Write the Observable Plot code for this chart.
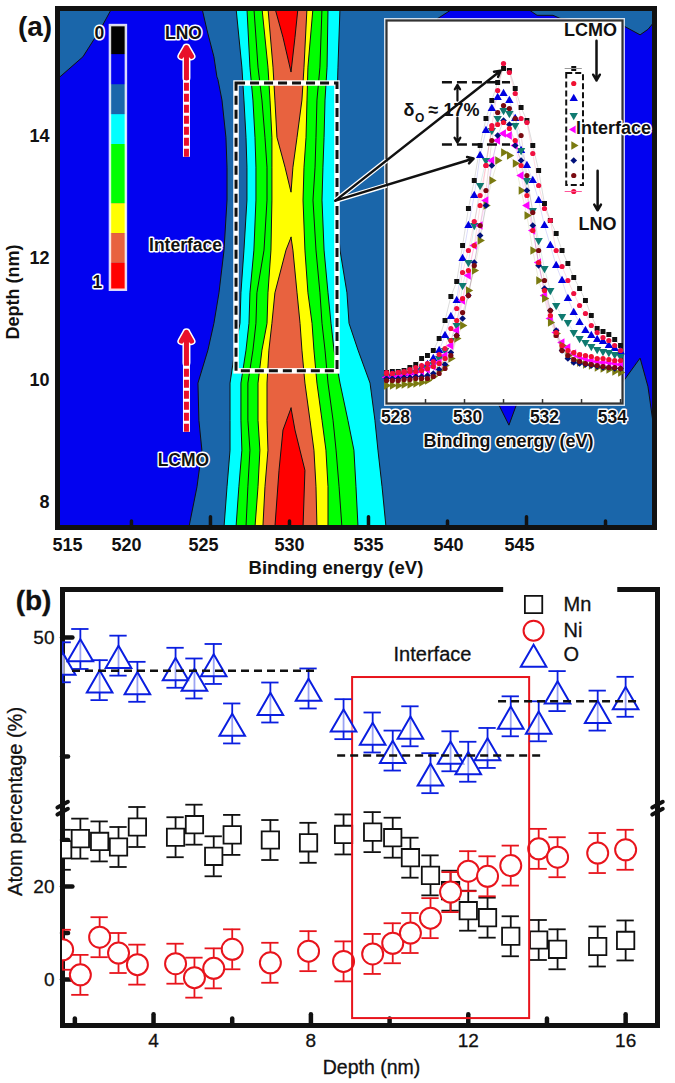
<!DOCTYPE html>
<html><head><meta charset="utf-8">
<script src="https://cdn.jsdelivr.net/npm/d3@7"></script>
<script src="https://cdn.jsdelivr.net/npm/@observablehq/plot@0.6"></script>
<style>
html,body{margin:0;padding:0;background:#fff}
#wrap{position:relative;width:675px;height:1083px;overflow:hidden}
#wrap>div{position:absolute}
#wrap svg{display:block;background:transparent;overflow:visible}
#b text{stroke:#111;stroke-width:.3px}
</style></head><body>
<div id="wrap"><div id="a" style="left:0;top:0"></div><div id="inset" style="left:380px;top:14px"></div><div id="over" style="left:0;top:0"></div><div id="b" style="left:0;top:575px"></div></div>
<script>
// ---- Panel (a): contour map, boundaries in eV at each depth (nm)
const contourDepth=[16.10,15.13,14.59,13.98,13.49,12.95,12.13,11.43,10.93,10.49,9.95,9.34,8.85,8.25,7.59];
const cyanL=[526.65,527.02,527.15,527.28,527.34,527.34,527.15,526.96,526.90,526.58,526.27,526.27,526.27,526.08,525.89];
const cyanR=[533.23,533.10,533.04,532.98,532.98,532.98,533.23,533.67,533.80,534.37,535.13,535.44,535.63,535.89,536.14];
const greenOuterL=[527.34,527.53,527.72,527.85,527.91,527.91,527.78,527.53,527.47,527.28,526.96,526.96,527.02,526.83,526.65];
const greenOuterR=[532.47,532.41,532.28,532.22,532.15,532.09,532.22,532.47,532.66,532.85,533.23,533.73,534.11,534.24,534.37];
const greenMidL=[527.78,528.04,528.29,528.48,528.61,528.61,528.42,527.97,527.91,527.72,527.40,527.40,527.53,527.40,527.28];
const greenMidR=[532.09,531.96,531.77,531.71,531.65,531.52,531.71,531.96,532.09,532.28,532.47,532.79,532.98,533.17,533.35];
const yellowL=[528.29,528.67,528.80,528.92,528.92,528.92,528.86,528.67,528.61,528.29,528.04,528.04,528.16,528.04,527.85];
const yellowR=[531.52,531.20,531.14,531.08,530.95,530.89,531.01,531.20,531.46,531.58,531.77,532.09,532.34,532.47,532.47];
const orangeTopDepth=[16.10,15.13,14.59,13.98,13.49,13.08];
const orangeTopL=[528.67,528.99,529.11,529.24,529.75,530.13];
const orangeTopR=[531.14,530.95,530.82,530.51,530.25,530.13];
const orangeLowDepth=[12.34,12.13,11.43,10.93,10.49,9.95,9.34,8.85,8.25,7.59];
const orangeLowL=[530.13,529.81,529.11,528.92,528.73,528.61,528.61,528.67,528.48,528.35];
const orangeLowR=[530.13,530.25,530.51,530.70,530.82,531.01,531.33,531.58,531.71,531.77];
const redTopDepth=[16.10,15.62,15.05];
const redTopL=[529.11,529.62,530.13];
const redTopR=[530.57,530.38,530.13];
const redLowDepth=[9.54,9.18,8.52,7.59];
const redLowL=[530.13,529.62,529.37,529.11];
const redLowR=[530.13,530.38,531.01,530.89];
const blueLeftDepth=[16.10,15.74,15.30,14.97,14.93,14.59,13.98,13.49,12.95,12.13,11.43,10.93,10.49,9.95,9.34,8.85,8.25,7.59];
const blueLeftL=[518.80,518.04,516.96,515.50,515.32,515.32,515.32,515.32,515.32,515.32,515.32,515.32,515.32,515.32,515.32,515.32,515.32,515.32];
const blueLeftR=[524.49,524.81,525.25,525.44,525.50,525.76,526.01,526.08,526.08,525.89,525.57,525.25,524.87,524.24,524.30,524.49,524.18,523.67];
const blueRightEv=[539.43,540.32,545.13,545.70,546.71,547.15,551.08,552.22,552.72,553.04,553.13];
const blueRightTop=[15.93,16.08,16.08,15.98,15.98,15.93,15.82,15.66,15.75,15.85,15.85];
const blueRightLow=[15.93,11.31,11.31,11.31,11.31,11.31,9.95,10.36,9.89,9.30,9.20];
const blueNotchEv=[543.23,543.92,544.43];
const blueNotchTop=[10,10,10];
const blueNotchLow=[9.62,9.26,9.62];
const colorTop=[15.82,15.34,14.85,14.36,13.87,12.90,12.41,11.92];
const colorLow=[15.34,14.85,14.36,13.87,12.90,12.41,11.92,11.48];
const colorFill=["#000000","#0202f0","#1a66aa","#00ffff","#00ff00","#ffff00","#e8623f","#ff0000"];
const aMajor=[525,535,545], aMinor=[520,530,540,550];
const aLabelEv=[515.95,519.68,524.56,530,535,540.06,544.56];
const aLabelText=["515","520","525","530","535","540","545"];
const aDepthTicks=[8,10,12,14];

// ---- Inset: O 1s spectra, intensity (a.u.) at 0.15 eV steps from 528 to 534
const insetEv=d3.range(41).map(i=>+(528+i*0.15).toFixed(2));
const sBlack=[31,32,32,33,36,39,45,48,53,65,83,107,122,158,195,223,258,285,303,321,335,333,315,296,283,258,233,200,183,170,153,140,126,115,103,88,75,72,69,64,58];
const sBlue=[28,29,29,30,31,33,36,39,45,53,68,87,103,145,178,208,248,273,295,306,310,303,285,253,238,223,203,178,158,138,123,105,91,81,73,68,64,62,58,55,52];
const sTeal=[27,27,28,29,30,31,33,35,39,45,53,63,78,118,141,178,218,243,273,285,293,290,278,253,223,193,163,135,113,98,87,81,71,65,61,57,54,52,51,49,47];
const sMagenta=[26,26,27,28,29,30,32,34,37,41,48,58,73,103,128,158,178,203,243,263,270,268,258,228,198,173,141,108,85,71,61,56,50,47,45,43,42,41,41,40,39];
const sOlive=[18,18,18,19,19,20,21,23,27,33,38,45,65,78,113,133,163,198,223,243,251,248,240,213,188,153,123,105,81,70,58,48,43,41,39,38,36,35,34,32,31];
const sNavy=[25,25,25,26,26,27,27,28,30,34,39,51,68,85,108,141,168,198,238,268,283,279,258,243,213,178,138,115,93,73,53,45,41,40,39,38,37,36,36,35,35];
const sMaroon=[23,23,23,24,24,25,25,25,27,30,35,48,68,91,108,138,178,213,263,291,298,295,285,268,228,191,153,123,93,68,53,48,44,42,40,39,38,37,36,36,35];
const sRedB=[30,30,31,31,32,32,33,35,37,40,45,63,83,105,133,158,198,238,275,279,281,275,263,238,208,173,141,113,88,71,58,53,51,49,48,47,45,45,44,43,43];
const sRedA=[31,30,31,32,34,36,38,40,42,49,55,75,95,131,153,182,208,238,278,313,340,331,310,285,281,250,218,195,183,153,137,123,110,98,90,78,71,66,63,58,53];
const insetSeries=[
 {v:sBlack,c:"#111111",s:"square",rot:0,leg:335,r:2.8},
 {v:sBlue,c:"#0000e0",s:"triangle",rot:0,leg:305,r:3.1},
 {v:sTeal,c:"#0f7a70",s:"triangle",rot:180,leg:288,r:3.1},
 {v:sMagenta,c:"#ff00ff",s:"triangle",rot:-90,leg:274,r:3.1},
 {v:sOlive,c:"#7a7a10",s:"triangle",rot:90,leg:258,r:3.1},
 {v:sNavy,c:"#00107a",s:"diamond2",rot:0,leg:243,r:3},
 {v:sMaroon,c:"#7a0a10",s:"circle",rot:0,leg:228,r:2.6},
 {v:sRedB,c:"#f01030",s:"circle",rot:0,leg:320,r:2.6},
 {v:sRedA,c:"#f01040",s:"circle",rot:0,leg:212,r:2.6}
];
const insetLegendEv=532.8;
const insetLabelEv=[528.23,530.08,532.05,533.79], insetLabelText=["528","530","532","534"];

// ---- Panel (b): atom percentage against depth
const depth=[1.69,2.14,2.63,3.11,3.59,4.56,5.04,5.53,6.0,6.97,7.94,8.83,9.57,10.08,10.53,11.04,11.55,12.0,12.49,13.08,13.79,14.27,15.29,16.0];
const mn=[27.9,30.3,29.7,28.5,32.8,30.6,33.3,26.5,31.1,30.0,29.4,31.2,31.7,30.5,26.2,22.4,19.1,14.8,13.3,9.3,8.5,6.5,7.1,8.4];
const ni=[6.4,1.0,9.1,5.7,3.2,3.4,0.4,2.4,6.5,3.6,6.1,3.9,5.5,7.8,10.0,13.2,18.8,23.3,22.2,24.5,28.1,26.3,27.2,27.9];
const ox=[48.96,49.52,48.21,49.24,48.14,48.73,48.28,48.89,46.39,47.27,47.86,46.57,46.01,45.25,46.27,44.30,45.22,44.78,45.36,46.69,46.48,47.75,46.93,47.51];
const mnErr=4.3, niErr=4.3, oxErr=0.84;
const guides=[{x1:1.94,x2:8.20,y:48.61},{x1:8.68,x2:13.92,y:45.04},{x1:12.77,x2:16.33,y:47.32}];
const legendRows=[{t:"Mn",y:51.39},{t:"Ni",y:50.29},{t:"O",y:49.29}];
const bXMajor=[4,8,12,16], bXMinor=[2,6,10,14], bYMajor=[0,20,50], bYMinor=[10,30,45];

const font='"Liberation Sans",Arial,sans-serif';
const aOpts={width:675,height:575,marginTop:8,marginBottom:48,marginLeft:57,marginRight:21,
  x:{domain:[515.32,553.1],axis:null},y:{domain:[7.59,16.1],axis:null},
  style:{fontFamily:font,fontWeight:"bold",background:"transparent",color:"#111"}};
const band=(ds,L,R,fill)=>Plot.areaX(ds.map((y,i)=>({y,a:L[i],b:R[i]})),{y:"y",x1:"a",x2:"b",fill,stroke:"#111",strokeWidth:1,fillOpacity:1});
const bandY=(xs,T,B,fill)=>Plot.areaY(xs.map((x,i)=>({x,a:T[i],b:B[i]})),{x:"x",y1:"a",y2:"b",fill,stroke:"#111",strokeWidth:1,clip:true});
const blue="#0202f0",steel="#1a66aa",cy="#00ffff",gr="#00ff00",ye="#ffff00",or="#e8623f",re="#ff0000";
const colorRows=colorFill.map((f,i)=>({f,t:colorTop[i],l:colorLow[i]}));

document.getElementById("a").append(Plot.plot({...aOpts,marks:[
  Plot.frame({fill:steel}),
  band(blueLeftDepth,blueLeftL,blueLeftR,blue),
  bandY(blueRightEv,blueRightTop,blueRightLow,blue),
  bandY(blueNotchEv,blueNotchTop,blueNotchLow,blue),
  band(contourDepth,cyanL,cyanR,cy),
  band(contourDepth,greenOuterL,greenOuterR,gr),
  band(contourDepth,greenMidL,greenMidR,gr),
  band(contourDepth,yellowL,yellowR,ye),
  band(orangeTopDepth,orangeTopL,orangeTopR,or),
  band(orangeLowDepth,orangeLowL,orangeLowR,or),
  band(redTopDepth,redTopL,redTopR,re),
  band(redLowDepth,redLowL,redLowR,re),
  Plot.frame({stroke:"#111",strokeWidth:5}),
  Plot.rect(colorRows,{x1:()=>518.67,x2:()=>519.68,y1:"t",y2:"l",fill:"f"}),
  Plot.rect([0],{x1:()=>518.67,x2:()=>519.68,y1:()=>15.82,y2:()=>11.48,stroke:"#fff",strokeWidth:2.5,strokeOpacity:.85}),
  Plot.ruleX(aMajor,{y1:()=>7.59,y2:()=>7.76,stroke:"#111",strokeWidth:3.5,strokeLinecap:"round"}),
  Plot.ruleX(aMinor,{y1:()=>7.59,y2:()=>7.69,stroke:"#111",strokeWidth:3.5,strokeLinecap:"round"}),
  Plot.axisY({ticks:aDepthTicks,tickSize:0,tickPadding:8,fontSize:18,label:null,anchor:"left",fontWeight:"bold"}),
  Plot.text(aLabelText,{x:(d,i)=>aLabelEv[i],y:()=>7.3,text:d=>d,fontSize:18,fontWeight:"bold"}),
  Plot.text(["Binding energy (eV)"],{x:()=>532.94,y:()=>6.93,fontSize:18.5,fontWeight:"bold"}),
  Plot.text(["Depth (nm)"],{x:()=>512.53,y:()=>11.45,rotate:-90,fontSize:18,fontWeight:"bold"}),
  Plot.text(["(a)"],{x:()=>513.9,y:()=>15.8,textAnchor:"middle",fontSize:28,fontWeight:"bold"})
]}));

// Inset
const ins=[];
insetSeries.forEach(o=>{
  const rows=insetEv.map((x,i)=>({x,y:o.v[i]}));
  ins.push(Plot.line(rows,{x:"x",y:"y",stroke:o.c,strokeWidth:1,strokeOpacity:.14}));
});
insetSeries.forEach(o=>{
  const rows=insetEv.map((x,i)=>({x,y:o.v[i]}));
  ins.push(Plot.dot(rows,{x:"x",y:"y",symbol:o.s,rotate:o.rot,fill:o.c,stroke:"none",r:o.r}));
});
insetSeries.forEach(o=>{
  ins.push(Plot.dot([o.leg],{x:()=>insetLegendEv,y:d=>d,symbol:o.s,rotate:o.rot,fill:o.c,stroke:"none",r:o.r}));
});
document.getElementById("inset").append(Plot.plot({width:250,height:446,marginLeft:6,marginRight:8,marginTop:6,marginBottom:57,
  x:{domain:[528,534.05],axis:null},y:{domain:[0,383],axis:null},
  style:{fontFamily:font,fontWeight:"bold",background:"transparent",color:"#111"},
  marks:[
    Plot.frame({stroke:"#fff",strokeWidth:5,strokeOpacity:.8}),
    Plot.frame({fill:"#fff",stroke:"#333",strokeWidth:2.2}),
    Plot.ruleX([529,530,531,532,533,534],{y1:()=>0,y2:()=>4,stroke:"#333",strokeWidth:1.5}),
    ...ins,
    Plot.ruleY([335,212],{x1:()=>532.58,x2:()=>533.02,stroke:d=>d===335?"#999":"#f59",strokeWidth:1}),
    Plot.rect([0],{x1:()=>532.62,x2:()=>533.05,y1:()=>218,y2:()=>330,stroke:"#111",strokeWidth:2,strokeDasharray:"6 3"}),
    Plot.text(insetLabelText,{x:(d,i)=>insetLabelEv[i],y:()=>-14,text:d=>d,fontSize:17.5,fontWeight:"bold",stroke:"#fff",strokeWidth:3,fill:"#111"}),
    Plot.text(["Binding energy (eV)"],{x:()=>531.13,y:()=>-38,fontSize:18,fontWeight:"bold",stroke:"#fff",strokeWidth:3,fill:"#111"})
  ]}));

// Overlay annotations in panel (a) coordinates
const halo={stroke:"#fff",strokeWidth:3,fill:"#111",fontWeight:"bold",fontSize:17.5};
const plain={fill:"#111",fontWeight:"bold",fontSize:18};
const redArrow=(x,tail,tip,neck)=>[
  Plot.ruleX([x],{y1:()=>tail,y2:()=>neck,stroke:"#fff",strokeWidth:7}),
  Plot.arrow([0],{x1:()=>x,x2:()=>x,y1:()=>neck,y2:()=>tip,stroke:"#fff",strokeWidth:8,headLength:4.5,bend:0}),
  Plot.ruleX([x],{y1:()=>tail,y2:()=>neck,stroke:"#e8102a",strokeWidth:5,strokeDasharray:"8 3"}),
  Plot.arrow([0],{x1:()=>x,x2:()=>x,y1:()=>neck,y2:()=>tip,stroke:"#e8102a",strokeWidth:5,headLength:5.5,bend:0})
];
const blackArrow=(x1,y1,x2,y2,sw=2.5)=>Plot.arrow([0],{x1:()=>x1,y1:()=>y1,x2:()=>x2,y2:()=>y2,stroke:"#111",strokeWidth:sw,headLength:4,bend:0});
const whiteLine=(x1,y1,x2,y2)=>Plot.link([0],{x1:()=>x1,y1:()=>y1,x2:()=>x2,y2:()=>y2,stroke:"#fff",strokeWidth:5});
document.getElementById("over").append(Plot.plot({...aOpts,marks:[
  Plot.rect([0],{x1:()=>526.65,x2:()=>533.04,y1:()=>10.15,y2:()=>14.87,stroke:"#fff",strokeWidth:5.5}),
  Plot.rect([0],{x1:()=>526.65,x2:()=>533.04,y1:()=>10.15,y2:()=>14.87,stroke:"#111",strokeWidth:3,strokeDasharray:"9 5"}),
  whiteLine(532.91,12.95,536.14,13.61),whiteLine(532.91,12.95,536.14,13.2),
  blackArrow(532.91,12.95,543.36,15.08),
  blackArrow(532.91,12.95,541.65,13.64),
  ...redArrow(523.48,13.66,15.46,14.96),
  ...redArrow(523.48,9.15,10.79,10.29),
  Plot.text(["LNO"],{x:()=>523.29,y:()=>15.69,...halo}),
  Plot.text(["Interface"],{x:()=>523.42,y:()=>12.21,...halo}),
  Plot.text(["LCMO"],{x:()=>523.29,y:()=>8.69,...halo}),
  Plot.text(["0"],{x:()=>517.97,y:()=>15.69,...halo}),
  Plot.text(["1"],{x:()=>517.85,y:()=>11.61,...halo}),
  Plot.ruleY([14.89,13.87],{x1:()=>539.68,x2:()=>543.99,stroke:"#111",strokeWidth:2.5,strokeDasharray:"10 5"}),
  blackArrow(540.63,14.59,540.63,14.85,2.2),
  blackArrow(540.63,14.31,540.63,13.90,2.2),
  Plot.text(["δ"],{x:()=>537.21,y:()=>14.43,textAnchor:"start",...plain}),
  Plot.text(["O"],{x:()=>537.95,y:()=>14.30,textAnchor:"start",fill:"#111",fontWeight:"bold",fontSize:12}),
  Plot.text(["≈ 17%"],{x:()=>538.8,y:()=>14.43,textAnchor:"start",...plain}),
  Plot.text(["LCMO"],{x:()=>549.05,y:()=>15.74,...plain}),
  Plot.text(["LNO"],{x:()=>549.5,y:()=>12.57,...plain}),
  Plot.text(["Interface"],{x:()=>550.51,y:()=>14.13,...halo,fontSize:18}),
  blackArrow(549.43,15.57,549.43,14.92),
  blackArrow(549.5,13.44,549.5,12.79)
]}));

// Panel (b)
const whisk=(vals,err,color,sw)=>{
  const rows=depth.map((x,i)=>({x,y:vals[i],lo:vals[i]-err,hi:vals[i]+err}));
  return {rows,marks:[
    Plot.ruleX(rows,{x:"x",y1:"lo",y2:"hi",stroke:color,strokeWidth:sw,clip:true}),
    Plot.ruleY(rows,{y:"lo",x1:d=>d.x-0.22,x2:d=>d.x+0.22,stroke:color,strokeWidth:sw,clip:true}),
    Plot.ruleY(rows,{y:"hi",x1:d=>d.x-0.22,x2:d=>d.x+0.22,stroke:color,strokeWidth:sw,clip:true})
  ]};
};
const mnW=whisk(mn,mnErr,"#111",1.8), niW=whisk(ni,niErr,"#e8141c",1.8), oW=whisk(ox,oxErr,"#0a1ee0",1.8);
const slash=(x,y)=>Plot.vector([0],{x:()=>x,y:()=>y,length:()=>25,rotate:()=>61,anchor:"middle",stroke:"#111",strokeWidth:4,shape:{draw(c,l){c.moveTo(0,0);c.lineTo(0,-l);}}});
document.getElementById("b").append(Plot.plot({width:675,height:508,marginTop:14,marginBottom:58,marginLeft:62,marginRight:18,
  x:{domain:[1.686,16.81],axis:null},
  y:{type:"linear",domain:[-9.89,38.5,43,52.02],range:[450,225,228.6,14],axis:null},
  style:{fontFamily:font,background:"transparent",color:"#111"},
  marks:[
    Plot.ruleX(bXMajor,{y1:()=>-9.89,y2:()=>-7.6,stroke:"#111",strokeWidth:4.5,strokeLinecap:"round"}),
    Plot.ruleX(bXMinor,{y1:()=>-9.89,y2:()=>-8.5,stroke:"#111",strokeWidth:4.5,strokeLinecap:"round"}),
    Plot.ruleY(bYMajor,{x1:()=>1.686,x2:()=>1.95,stroke:"#111",strokeWidth:4.5,strokeLinecap:"round"}),
    Plot.ruleY(bYMinor,{x1:()=>1.686,x2:()=>1.84,stroke:"#111",strokeWidth:4.5,strokeLinecap:"round"}),
    Plot.axisX({ticks:bXMajor,tickSize:0,tickPadding:8,fontSize:19,label:null,anchor:"bottom",tickFormat:d=>d}),
    Plot.axisY({ticks:bYMajor,tickSize:0,tickPadding:8,fontSize:19,label:null,anchor:"left",tickFormat:d=>d}),
    Plot.frame({stroke:"#111",strokeWidth:5}),
    Plot.rect([0],{x1:()=>12.9,x2:()=>15.8,y1:()=>51.0,y2:()=>52.25,fill:"#fff"}),
    slash(1.69,37.6),slash(1.69,36.1),slash(16.81,37.6),slash(16.81,36.1),
    ...mnW.marks,
    Plot.dot(mnW.rows,{x:"x",y:"y",symbol:"square",r:9.8,stroke:"#111",fill:"#fff",strokeWidth:1.8,clip:true}),
    ...niW.marks,
    Plot.dot(niW.rows,{x:"x",y:"y",symbol:"circle",r:10.5,stroke:"#e8141c",fill:"#fff",strokeWidth:2,clip:true}),
    Plot.rect([0],{x1:()=>9.06,x2:()=>13.56,y1:()=>-8.4,y2:()=>48.32,stroke:"#e8141c",strokeWidth:2}),
    ...oW.marks,
    Plot.dot(oW.rows,{x:"x",y:"y",symbol:"triangle",r:9.5,dy:5,stroke:"#0a1ee0",strokeWidth:2,fill:"#fff",fillOpacity:.6,clip:true}),
    Plot.ruleY(guides,{y:"y",x1:"x1",x2:"x2",stroke:"#111",strokeWidth:2.5,strokeDasharray:"8 5"}),
    Plot.dot([51.39],{x:()=>13.66,y:d=>d,symbol:"square",r:9.8,stroke:"#111",strokeWidth:1.8}),
    Plot.dot([50.29],{x:()=>13.66,y:d=>d,symbol:"circle",r:10,stroke:"#e8141c",strokeWidth:2}),
    Plot.dot([49.29],{x:()=>13.66,y:d=>d,symbol:"triangle",r:9.5,dy:5,stroke:"#0a1ee0",strokeWidth:2}),
    Plot.text(legendRows,{x:()=>14.42,y:"y",text:"t",textAnchor:"start",fontSize:20}),
    Plot.text(["Interface"],{x:()=>11.09,y:()=>49.29,fontSize:20}),
    Plot.text(["Depth (nm)"],{x:()=>9.54,y:()=>-18.9,fontSize:19.5}),
    Plot.text(["Atom percentage (%)"],{x:()=>0.49,y:()=>38.3,rotate:-90,fontSize:20}),
    Plot.text(["(b)"],{x:()=>0.95,y:()=>51.55,fontSize:28,fontWeight:"bold"})
  ]}));
</script>
</body></html>
